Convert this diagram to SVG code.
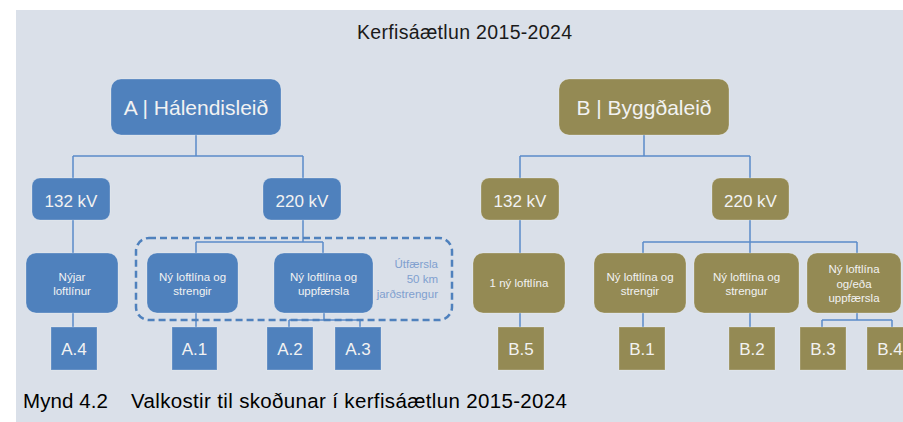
<svg xmlns="http://www.w3.org/2000/svg" width="903" height="422" viewBox="0 0 903 422">
<style>
text{font-family:"Liberation Sans",Arial,sans-serif}
.a{fill:#4f81bd;stroke:#ffffff;stroke-opacity:.25}
.b{fill:#948a54;stroke:#ffffff;stroke-opacity:.25}
.t{fill:#f2f2f2;text-anchor:middle}
.big{font-size:21px}
.kv{font-size:17px}
.sm{font-size:11.5px}
.lab{font-size:17px}
.con{fill:none;stroke:#5b8bc9;stroke-width:1.5}
</style>
<rect x="16" y="10" width="887" height="412" fill="#dae0e9"/>
<text x="357" y="39" font-size="19.5" textLength="215" fill="#1a1a1a">Kerfisáætlun 2015-2024</text>

<g id="connectors">
<path class="con" d="M196,135V156M73,156H303M73,156V178M303,156V178"/>
<path class="con" d="M73,220V253M73,313V327"/>
<path class="con" d="M303,220V242M196,242H323M196,242V253M323,242V253"/>
<path class="con" d="M196,313V327M324,313V320M289,320H360M289,320V327M360,320V327"/>
<path class="con" d="M644,135V156M520,156H750M520,156V178M750,156V178"/>
<path class="con" d="M520,220V253M520,313V327"/>
<path class="con" d="M750,220V242M643,242H857M643,242V253M750,242V253M857,242V253"/>
<path class="con" d="M643,313V327M750,313V327M857,313V320M822,320H892M822,320V327M892,320V327"/>
</g>

<g id="nodeA"><rect class="a" x="111" y="79" width="170" height="56" rx="10"/><text class="t big" x="196" y="115">A | Hálendisleið</text></g>
<g id="nodeA132"><rect class="a" x="32" y="178" width="78" height="42" rx="8"/><text class="t kv" x="71" y="207">132 kV</text></g>
<g id="nodeA220"><rect class="a" x="263" y="178" width="78" height="42" rx="8"/><text class="t kv" x="302" y="207">220 kV</text></g>
<g id="nodeA-nyjar"><rect class="a" x="26" y="253" width="92" height="60" rx="10"/><text class="t sm" x="72" y="281">Nýjar</text><text class="t sm" x="72" y="295">loftlínur</text></g>
<g id="utfaersla-group"><rect x="136" y="238" width="316" height="82" rx="13" fill="none" stroke="#4f81bd" stroke-width="2.5" stroke-dasharray="7,4"/>
<text x="438" y="268" font-size="11.5" text-anchor="end" fill="#7f9fcf">Útfærsla</text><text x="438" y="283" font-size="11.5" text-anchor="end" fill="#7f9fcf">50 km</text><text x="438" y="298" font-size="11.5" text-anchor="end" fill="#7f9fcf">jarðstrengur</text></g>
<g id="nodeA-strengir"><rect class="a" x="147" y="253" width="91" height="60" rx="10"/><text class="t sm" x="192.5" y="281">Ný loftlína og</text><text class="t sm" x="192.5" y="295">strengir</text></g>
<g id="nodeA-uppfaersla"><rect class="a" x="274" y="253" width="99" height="60" rx="10"/><text class="t sm" x="323.5" y="281">Ný loftlína og</text><text class="t sm" x="323.5" y="295">uppfærsla</text></g>
<g id="A4"><rect class="a" x="51" y="327" width="46" height="43"/><text class="t lab" x="74" y="355">A.4</text></g>
<g id="A1"><rect class="a" x="172" y="327" width="45" height="43"/><text class="t lab" x="194.5" y="355">A.1</text></g>
<g id="A2"><rect class="a" x="267" y="327" width="46" height="43"/><text class="t lab" x="290" y="355">A.2</text></g>
<g id="A3"><rect class="a" x="335" y="327" width="46" height="43"/><text class="t lab" x="358" y="355">A.3</text></g>

<g id="nodeB"><rect class="b" x="559" y="79" width="170" height="56" rx="10"/><text class="t big" x="644" y="115">B | Byggðaleið</text></g>
<g id="nodeB132"><rect class="b" x="481" y="178" width="78" height="42" rx="8"/><text class="t kv" x="520" y="207">132 kV</text></g>
<g id="nodeB220"><rect class="b" x="712" y="178" width="77" height="42" rx="8"/><text class="t kv" x="750.5" y="207">220 kV</text></g>
<g id="nodeB-1ny"><rect class="b" x="473" y="253" width="92" height="60" rx="10"/><text class="t sm" x="519" y="287">1 ný loftlína</text></g>
<g id="nodeB-strengir"><rect class="b" x="594" y="253" width="92" height="60" rx="10"/><text class="t sm" x="640" y="281">Ný loftlína og</text><text class="t sm" x="640" y="295">strengir</text></g>
<g id="nodeB-strengur"><rect class="b" x="694" y="253" width="105" height="60" rx="10"/><text class="t sm" x="746.5" y="281">Ný loftlína og</text><text class="t sm" x="746.5" y="295">strengur</text></g>
<g id="nodeB-uppfaersla"><rect class="b" x="807" y="253" width="94" height="60" rx="10"/><text class="t sm" x="854" y="273">Ný loftlína</text><text class="t sm" x="854" y="288">og/eða</text><text class="t sm" x="854" y="302">uppfærsla</text></g>
<g id="B5"><rect class="b" x="498" y="327" width="46" height="43"/><text class="t lab" x="521" y="355">B.5</text></g>
<g id="B1"><rect class="b" x="619" y="327" width="46" height="43"/><text class="t lab" x="642" y="355">B.1</text></g>
<g id="B2"><rect class="b" x="729" y="327" width="46" height="43"/><text class="t lab" x="752" y="355">B.2</text></g>
<g id="B3"><rect class="b" x="800" y="327" width="46" height="43"/><text class="t lab" x="823" y="355">B.3</text></g>
<g id="B4"><rect class="b" x="867" y="327" width="46" height="43"/><text class="t lab" x="890" y="355">B.4</text></g>

<text x="23" y="408" font-size="20.5" textLength="85" fill="#000">Mynd 4.2</text>
<text x="131" y="408" font-size="20.5" textLength="436" fill="#000">Valkostir til skoðunar í kerfisáætlun 2015-2024</text>
</svg>
